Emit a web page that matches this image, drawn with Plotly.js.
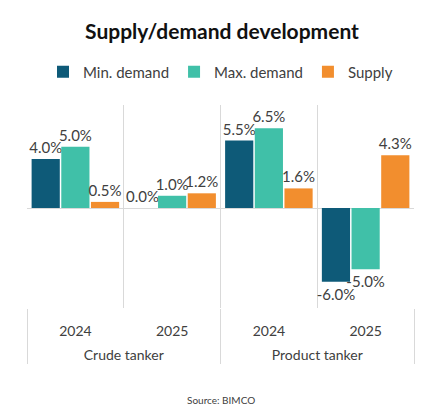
<!DOCTYPE html>
<html>
<head>
<meta charset="utf-8">
<script src="https://cdn.plot.ly/plotly-3.0.1.min.js"></script>
<style>
  html, body { margin: 0; padding: 0; background: #fff; }
  #plot { width: 444px; height: 412px; }
</style>
</head>
<body>
<div id="plot"></div>
<script>
// chart data
var segments = ['Crude tanker', 'Crude tanker', 'Product tanker', 'Product tanker'];
var years = ['2024', '2025', '2024', '2025'];
var minDemand = [4.0, 0.0, 5.5, -6.0];
var maxDemand = [5.0, 1.0, 6.5, -5.0];
var supply = [0.5, 1.2, 1.6, 4.3];

var labelFont = {family: 'Lato, sans-serif', size: 15, color: '#404040'};

// blank second line under the years pushes the segment row down (Excel spacing)
var yearLabels = years.map(function(y) { return y + '<br> '; });

function pct(v) {
  return v.map(function(d) { return d.toFixed(1) + '%'; });
}

function makeTrace(name, vals, color) {
  return {
    type: 'bar',
    name: name,
    x: [segments, yearLabels],
    y: vals,
    marker: {color: color},
    text: pct(vals),
    textposition: 'outside',
    constraintext: 'none',
    textfont: labelFont,
    cliponaxis: false,
    hoverinfo: 'none'
  };
}

var data = [
  makeTrace('Min. demand', minDemand, '#0e5a78'),
  makeTrace('Max. demand', maxDemand, '#40c0a8'),
  makeTrace('Supply', supply, '#f28e2e')
];

var layout = {
  width: 444,
  height: 412,
  margin: {l: 27, r: 30, t: 105, b: 104},
  paper_bgcolor: '#fff',
  plot_bgcolor: '#fff',
  font: {family: 'Lato, sans-serif', color: '#404040'},
  title: {
    text: '<b>Supply/demand development</b>',
    font: {family: 'Lato, sans-serif', size: 21, color: '#111'},
    x: 0.5, xanchor: 'center', y: 0.922, yanchor: 'middle'
  },
  showlegend: true,
  legend: {
    orientation: 'h',
    x: 0.5, xanchor: 'center',
    y: 1.163, yanchor: 'middle',
    font: {family: 'Lato, sans-serif', size: 15, color: '#404040'},
    itemwidth: 30
  },
  barmode: 'group',
  bargap: 0.08,
  bargroupgap: 0.05,
  xaxis: {
    type: 'multicategory',
    tickson: 'boundaries',
    showgrid: true,
    gridcolor: '#d9d9d9',
    showdividers: true,
    dividercolor: '#d9d9d9',
    dividerwidth: 1,
    ticks: '',
    ticklabelstandoff: 13,
    showline: false,
    tickfont: {family: 'Lato, sans-serif', size: 14, color: '#404040'}
  },
  yaxis: {
    range: [-8.15, 8.4],
    showticklabels: false,
    showgrid: false,
    zeroline: true,
    zerolinecolor: '#d9d9d9',
    zerolinewidth: 1
  },
  annotations: [{
    text: 'Source: BIMCO',
    xref: 'paper', yref: 'paper',
    x: 0.5, y: -0.453,
    xanchor: 'center', yanchor: 'middle',
    showarrow: false,
    font: {family: 'Lato, sans-serif', size: 10, color: '#404040'}
  }]
};

Plotly.newPlot('plot', data, layout, {displayModeBar: false, staticPlot: true});
</script>
</body>
</html>
